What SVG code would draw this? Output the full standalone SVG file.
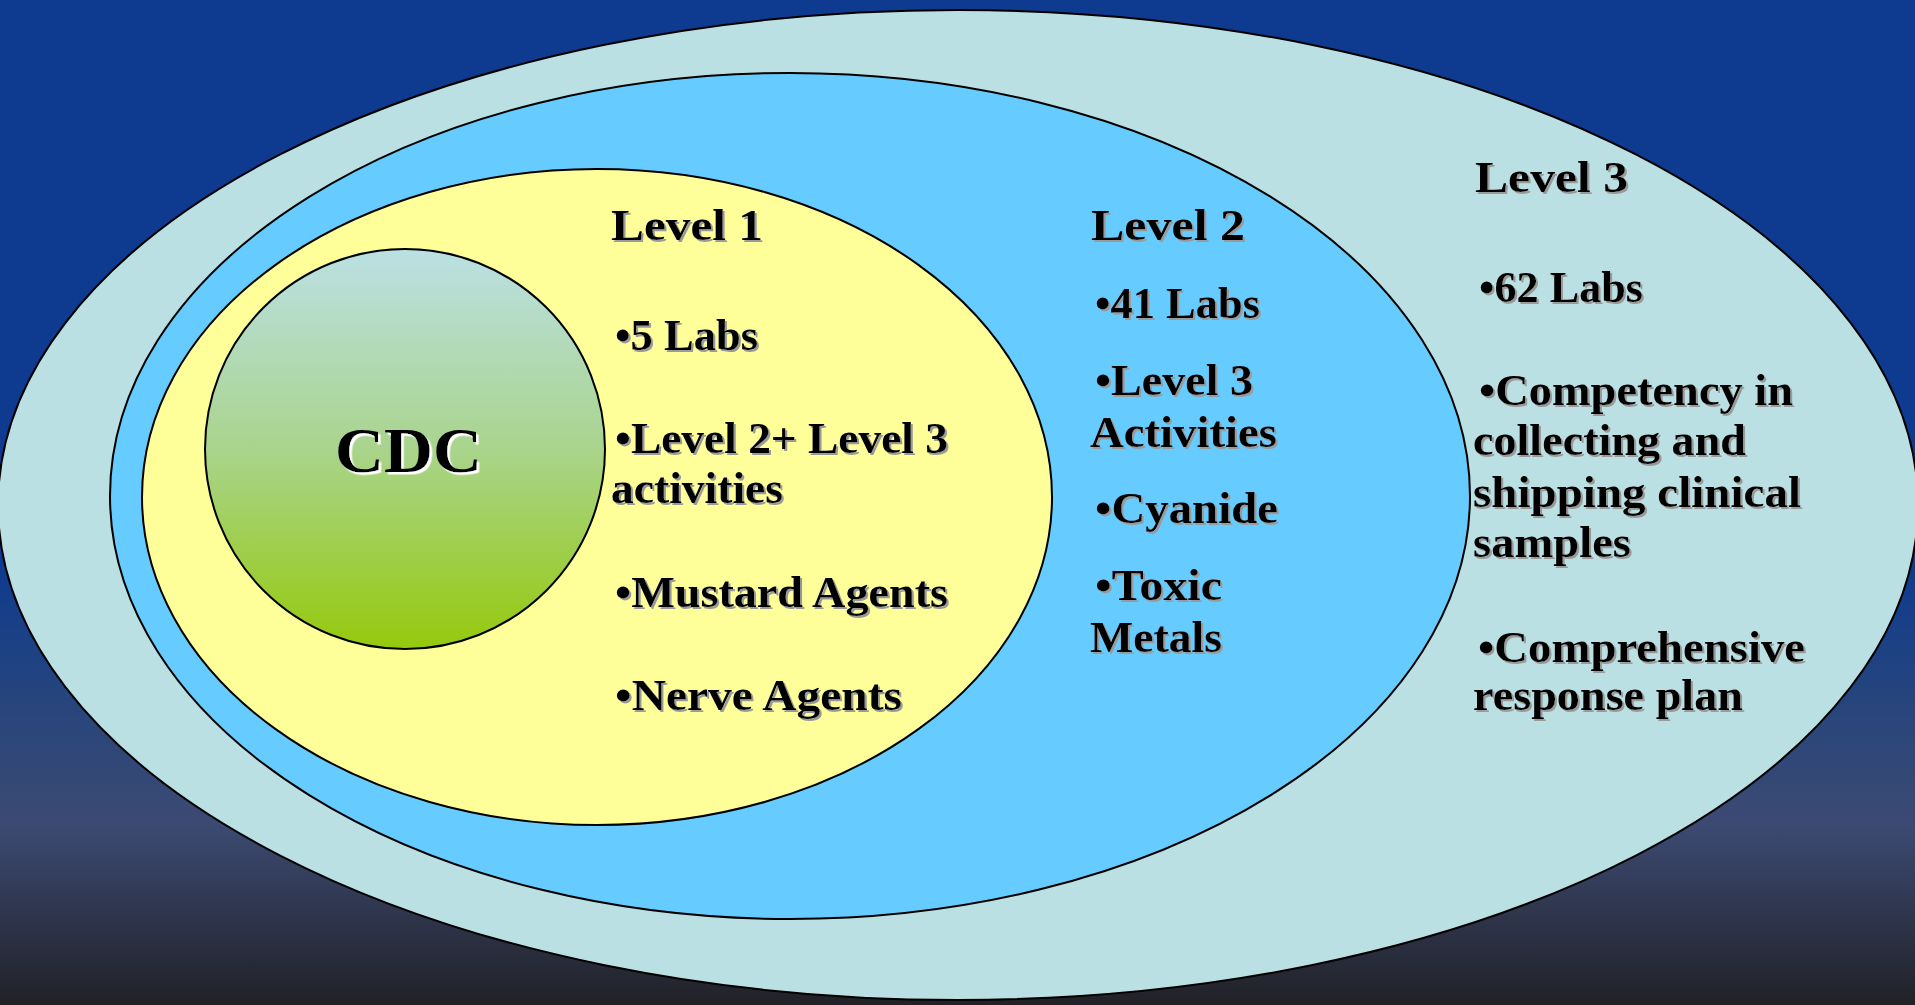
<svg xmlns="http://www.w3.org/2000/svg" width="1915" height="1005" viewBox="0 0 1915 1005">
  <defs>
    <linearGradient id="bg" x1="0" y1="0" x2="0" y2="1">
      <stop offset="0" stop-color="#0E3B8F"/>
      <stop offset="0.56" stop-color="#0E3B8F"/>
      <stop offset="0.7" stop-color="#27457C"/>
      <stop offset="0.82" stop-color="#3C4A72"/>
      <stop offset="1" stop-color="#212126"/>
    </linearGradient>
    <linearGradient id="cdcGrad" x1="0" y1="0" x2="0" y2="1">
      <stop offset="0" stop-color="#BBE0E4"/>
      <stop offset="0.5" stop-color="#A9D48C"/>
      <stop offset="1" stop-color="#95C90C"/>
    </linearGradient>
    <filter id="shadow" x="-5%" y="-20%" width="110%" height="140%">
      <feDropShadow dx="2" dy="2" stdDeviation="0.3" flood-color="#9A9A9A" flood-opacity="1"/>
    </filter>
    <filter id="shadowWhite" x="-5%" y="-20%" width="110%" height="140%">
      <feDropShadow dx="2.5" dy="2.5" stdDeviation="0.3" flood-color="#FFFFFF" flood-opacity="1"/>
    </filter>
  </defs>
  <style>
    .ring { stroke: #000; stroke-width: 2; }
    .t { font-family: "Liberation Serif", "DejaVu Serif", serif; font-weight: bold; font-size: 45px; fill: #000; filter: url(#shadow); }
    .cdc { font-family: "Liberation Serif", "DejaVu Serif", serif; font-weight: bold; font-size: 64px; fill: #000; filter: url(#shadowWhite); }
  </style>

  <rect x="0" y="0" width="1915" height="1005" fill="url(#bg)"/>

  <g id="level3">
    <ellipse class="ring" cx="958" cy="505" rx="960" ry="495" fill="#BAE0E3"/>
    <text class="t" x="1475" y="192" textLength="153" lengthAdjust="spacingAndGlyphs">Level 3</text>
    <text class="t" x="1479" y="302" textLength="164" lengthAdjust="spacingAndGlyphs">•62 Labs</text>
    <text class="t" x="1479" y="405" textLength="314" lengthAdjust="spacingAndGlyphs">•Competency in</text>
    <text class="t" x="1473" y="455" textLength="273" lengthAdjust="spacingAndGlyphs">collecting and</text>
    <text class="t" x="1473" y="507" textLength="328" lengthAdjust="spacingAndGlyphs">shipping clinical</text>
    <text class="t" x="1473" y="557" textLength="158" lengthAdjust="spacingAndGlyphs">samples</text>
    <text class="t" x="1478" y="662" textLength="327" lengthAdjust="spacingAndGlyphs">•Comprehensive</text>
    <text class="t" x="1473" y="710" textLength="270" lengthAdjust="spacingAndGlyphs">response plan</text>
  </g>

  <g id="level2">
    <ellipse class="ring" cx="790" cy="496" rx="680" ry="423" fill="#66CCFF"/>
    <text class="t" x="1091" y="240" textLength="154" lengthAdjust="spacingAndGlyphs">Level 2</text>
    <text class="t" x="1095" y="318" textLength="165" lengthAdjust="spacingAndGlyphs">•41 Labs</text>
    <text class="t" x="1095" y="395" textLength="158" lengthAdjust="spacingAndGlyphs">•Level 3</text>
    <text class="t" x="1090" y="447" textLength="187" lengthAdjust="spacingAndGlyphs">Activities</text>
    <text class="t" x="1095" y="523" textLength="183" lengthAdjust="spacingAndGlyphs">•Cyanide</text>
    <text class="t" x="1095" y="600" textLength="127" lengthAdjust="spacingAndGlyphs">•Toxic</text>
    <text class="t" x="1090" y="652" textLength="132" lengthAdjust="spacingAndGlyphs">Metals</text>
  </g>

  <g id="level1">
    <ellipse class="ring" cx="597" cy="497" rx="455" ry="328" fill="#FFFF99"/>
    <text class="t" x="611" y="240" textLength="152" lengthAdjust="spacingAndGlyphs">Level 1</text>
    <text class="t" x="615" y="350" textLength="143" lengthAdjust="spacingAndGlyphs">•5 Labs</text>
    <text class="t" x="615" y="453" textLength="333" lengthAdjust="spacingAndGlyphs">•Level 2+ Level 3</text>
    <text class="t" x="611" y="503" textLength="172" lengthAdjust="spacingAndGlyphs">activities</text>
    <text class="t" x="615" y="607" textLength="333" lengthAdjust="spacingAndGlyphs">•Mustard Agents</text>
    <text class="t" x="615" y="710" textLength="287" lengthAdjust="spacingAndGlyphs">•Nerve Agents</text>
  </g>

  <g id="cdc">
    <circle class="ring" cx="405" cy="449" r="200" fill="url(#cdcGrad)"/>
    <text class="cdc" x="335" y="472" textLength="147" lengthAdjust="spacingAndGlyphs">CDC</text>
  </g>

  <g id="connectors"></g>
</svg>
